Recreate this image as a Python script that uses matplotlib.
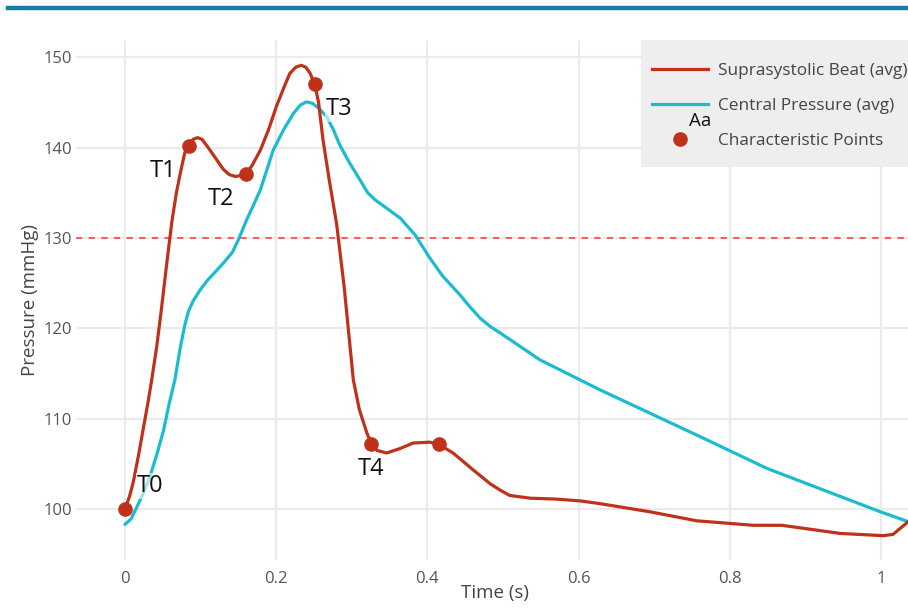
import matplotlib
matplotlib.use('Agg')
import matplotlib.pyplot as plt
from matplotlib.lines import Line2D
from matplotlib.patches import Rectangle

plt.rcParams['font.family'] = ['Open Sans', 'DejaVu Sans']

RED = '#c0311a'
CYAN = '#1bbccf'
GRID = '#ebebeb'
TICK = '#555555'
BAR = '#137fa3'

# Suprasystolic beat (avg)
supra_t = [0.0, 0.006, 0.011, 0.018, 0.024, 0.03, 0.035, 0.042, 0.048, 0.055, 0.062, 0.068,
           0.073, 0.079, 0.085, 0.09, 0.096, 0.102, 0.11, 0.12, 0.13, 0.138, 0.146, 0.153,
           0.16, 0.168, 0.179, 0.19, 0.2, 0.21, 0.218, 0.226, 0.233, 0.239, 0.245, 0.251,
           0.256, 0.262, 0.27, 0.28, 0.29, 0.302, 0.31, 0.32, 0.326, 0.333, 0.346, 0.364,
           0.381, 0.403, 0.415, 0.434, 0.461, 0.483, 0.496, 0.509, 0.536, 0.57, 0.602,
           0.628, 0.694, 0.756, 0.831, 0.869, 0.946, 1.003, 1.016, 1.036]
supra_p = [100.0, 101.4, 103.0, 106.0, 108.8, 111.6, 114.1, 118.0, 122.0, 127.0, 131.8, 135.0,
           137.1, 139.4, 140.2, 140.9, 141.1, 140.9, 140.0, 138.8, 137.6, 137.0, 136.8, 136.9,
           137.1, 138.0, 139.7, 142.0, 144.5, 146.6, 148.2, 148.9, 149.1, 148.9, 148.2, 147.0,
           145.0, 140.8, 136.5, 131.5, 124.5, 114.3, 111.0, 108.4, 107.2, 106.5, 106.2, 106.7,
           107.3, 107.4, 107.15, 106.2, 104.3, 102.8, 102.1, 101.5, 101.2, 101.1, 100.9,
           100.6, 99.7, 98.7, 98.2, 98.2, 97.3, 97.05, 97.2, 98.6]

# Central pressure (avg)
central_t = [0.0, 0.008, 0.015, 0.024, 0.033, 0.042, 0.051, 0.058, 0.066, 0.073, 0.079,
             0.084, 0.09, 0.099, 0.109, 0.119, 0.131, 0.142, 0.15, 0.161, 0.179, 0.196, 0.21,
             0.223, 0.232, 0.24, 0.248, 0.257, 0.267, 0.276, 0.284, 0.297, 0.311, 0.321,
             0.331, 0.364, 0.384, 0.403, 0.42, 0.443, 0.457, 0.47, 0.483, 0.496, 0.549,
             0.628, 0.761, 0.849, 0.999, 1.036]
central_p = [98.3, 98.9, 100.1, 101.7, 103.6, 106.0, 108.7, 111.5, 114.3, 117.8, 120.3,
             121.9, 123.0, 124.2, 125.3, 126.2, 127.3, 128.4, 129.8, 132.0, 135.3, 139.7, 142.0,
             143.8, 144.7, 145.05, 144.9, 144.3, 143.4, 141.9, 140.3, 138.3, 136.4, 135.0,
             134.2, 132.2, 130.3, 127.8, 125.8, 123.7, 122.3, 121.1, 120.2, 119.5, 116.5,
             113.2, 108.0, 104.5, 99.7, 98.6]

# Characteristic points
point_t = [0.0, 0.085, 0.16, 0.251, 0.326, 0.415]
point_p = [100.0, 140.2, 137.1, 147.0, 107.2, 107.15]
point_labels = ['T0', 'T1', 'T2', 'T3', 'T4']
label_t = [0.0337, 0.0503, 0.1267, 0.2827, 0.3258]
label_p = [102.53, 137.39, 134.31, 144.23, 104.41]

threshold = 130
x_ticks = [0, 0.2, 0.4, 0.6, 0.8, 1]
x_tick_labels = ['0', '0.2', '0.4', '0.6', '0.8', '1']
y_ticks = [100, 110, 120, 130, 140, 150]
legend_labels = ['Suprasystolic Beat (avg)', 'Central Pressure (avg)', 'Characteristic Points']

fig = plt.figure(figsize=(9.08, 6.10), dpi=100)
ax = fig.add_axes([76 / 908, 1 - 560 / 610, 1 - 76 / 908, (560 - 40) / 610])

ax.set_xlim(-0.0648, 1.0357)
ax.set_ylim(94.36, 151.9)

ax.plot(supra_t, supra_p, color=RED, lw=2.3, solid_capstyle='round', solid_joinstyle='round', zorder=4)
ax.plot(central_t, central_p, color=CYAN, lw=2.3, solid_capstyle='round', solid_joinstyle='round', zorder=3)
ax.plot(point_t, point_p, 'o', color=RED, ms=9.5, zorder=5)
ax.axhline(threshold, color='#ff4d57', lw=1.3, ls=(0, (3.5, 3.5)), zorder=2)

for lab, tx, py in zip(point_labels, label_t, label_p):
    ax.text(tx, py, lab, fontsize=17, color='#111111', ha='center', va='center', zorder=6,
            bbox=dict(facecolor='white', edgecolor='none', alpha=0.6, pad=0.5))

ax.set_xticks(x_ticks)
ax.set_xticklabels(x_tick_labels)
ax.set_yticks(y_ticks)
ax.grid(color=GRID, lw=1.6, zorder=0)
ax.set_axisbelow(True)
for s in ax.spines.values():
    s.set_visible(False)
ax.tick_params(length=0, labelsize=12, colors=TICK, pad=8)
ax.tick_params(axis='y', pad=3)
ax.set_xlabel('Time (s)', fontsize=13.5, color='#444444')
ax.set_ylabel('Pressure (mmHg)', fontsize=13.5, color='#444444')
ax.xaxis.set_label_coords(0.5036, -0.046)
ax.yaxis.set_label_coords(-0.045, 0.5)

# legend: grey panel plus frameless figure legend
fig.add_artist(Rectangle((641 / 908, 1 - 167 / 610), 267 / 908, 127 / 610,
                         transform=fig.transFigure, facecolor='#eeeeee', edgecolor='none', zorder=1))
handles = [Line2D([], [], color=RED, lw=2.3),
           Line2D([], [], color=CYAN, lw=2.3),
           Line2D([], [], ls='none', marker='o', color=RED, ms=9.5)]
fig.legend(handles, legend_labels, loc='upper left', bbox_to_anchor=(652 / 908, 1 - 63 / 610),
           fontsize=12.4, labelcolor='#444444', frameon=False, handlelength=3.25,
           handletextpad=0.58, labelspacing=1.1, borderpad=0, borderaxespad=0)
fig.text(700 / 908, 1 - 121 / 610, 'Aa', fontsize=13.5, color='#111111', ha='center', va='center',
         zorder=6)

# top accent bar
fig.add_artist(Line2D([8 / 908, 1.0], [1 - 8 / 610, 1 - 8 / 610], color=BAR, lw=3.2,
                      transform=fig.transFigure))

fig.savefig('out.png', dpi=100, facecolor='white')
